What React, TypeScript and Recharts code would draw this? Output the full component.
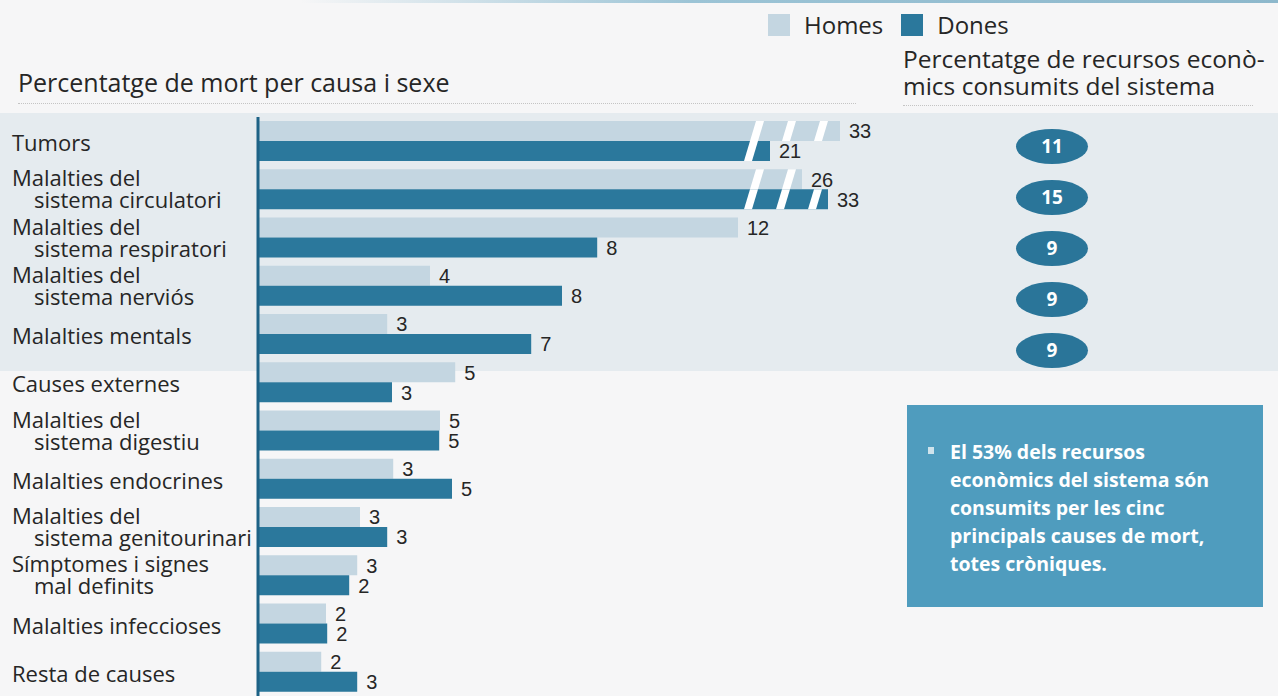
import React from "react";
import {
  BarChart,
  Bar,
  XAxis,
  YAxis,
  LabelList,
  ScatterChart,
  Scatter,
} from "recharts";

// causes, each one split in the lines it is printed on
const CAUSES: string[][] = [
  ["Tumors"],
  ["Malalties del", "sistema circulatori"],
  ["Malalties del", "sistema respiratori"],
  ["Malalties del", "sistema nerviós"],
  ["Malalties mentals"],
  ["Causes externes"],
  ["Malalties del", "sistema digestiu"],
  ["Malalties endocrines"],
  ["Malalties del", "sistema genitourinari"],
  ["Símptomes i signes", "mal definits"],
  ["Malalties infeccioses"],
  ["Resta de causes"],
];

// printed percentages
const HOMES_PCT = [33, 26, 12, 4, 3, 5, 5, 3, 3, 3, 2, 2];
const DONES_PCT = [21, 33, 8, 8, 7, 3, 5, 5, 3, 2, 2, 3];

// bar lengths as drawn in the original (not to scale, top bars cut by an axis break)
const HOMES_LEN = [14.55, 13.6, 12.0, 4.3, 3.23, 4.93, 4.55, 3.38, 2.55, 2.48, 1.7, 1.58];
const DONES_LEN = [12.8, 14.25, 8.48, 7.6, 6.83, 3.35, 4.53, 4.85, 3.23, 2.28, 1.73, 2.48];

// where the axis break stripes cross the long bars
const AXIS_BREAKS = [12.4, 13.2, 14.0];

// % of economic resources used, top five causes
const RESOURCE_PCT = [11, 15, 9, 9, 9];

const SERIES = [
  { key: "homesLen", label: "homesPct", name: "Homes", color: "#c4d6e1" },
  { key: "donesLen", label: "donesPct", name: "Dones", color: "#2b789c" },
];

const FONT = "'Open Sans', 'Noto Sans', sans-serif";
const TEXT = "#262626";

const data = CAUSES.map((lines, i) => ({
  cause: lines.join("|"),
  homesPct: HOMES_PCT[i],
  donesPct: DONES_PCT[i],
  homesLen: HOMES_LEN[i],
  donesLen: DONES_LEN[i],
}));

const resources = RESOURCE_PCT.map((v, i) => ({ pos: 0.5, row: i, value: v }));

const CauseTick = (props: any) => {
  const { y, payload } = props;
  const lines: string[] = String(payload.value).split("|");
  if (lines.length === 1) {
    return (
      <text x={12} y={y + 4} dominantBaseline="middle" fontSize={22} fill={TEXT} fontFamily={FONT}>
        {lines[0]}
      </text>
    );
  }
  return (
    <g>
      <text x={12} y={y - 9} dominantBaseline="middle" fontSize={22} fill={TEXT} fontFamily={FONT}>
        {lines[0]}
      </text>
      <text x={34} y={y + 13} dominantBaseline="middle" fontSize={22} fill={TEXT} fontFamily={FONT}>
        {lines[1]}
      </text>
    </g>
  );
};

// bar with white slanted stripes where it passes the axis break
const brokenBar = (lenKey: string, fill: string, upper: boolean) => (props: any) => {
  const { x, y, width, height, payload } = props;
  const len = payload[lenKey];
  const ppu = width / len;
  const seam = upper ? y + height : y;
  const slope = 0.3;
  const half = 4;
  return (
    <g>
      <rect x={x} y={y} width={width} height={height} fill={fill} />
      {AXIS_BREAKS.filter((b) => b < len - 0.05).map((b) => {
        const cx = x + b * ppu;
        const xt = cx + slope * (seam - y);
        const xb = cx + slope * (seam - (y + height));
        return (
          <polygon
            key={b}
            points={`${xt - half},${y} ${xt + half},${y} ${xb + half},${y + height} ${xb - half},${y + height}`}
            fill="#ffffff"
          />
        );
      })}
    </g>
  );
};

const ValueLabel = (props: any) => {
  const { x, y, width, height, value } = props;
  return (
    <text
      x={x + width + 9}
      y={y + height / 2 + 2}
      dominantBaseline="middle"
      fontSize={20}
      fill={TEXT}
      fontFamily="'Liberation Sans', Arial, sans-serif"
    >
      {value}
    </text>
  );
};

const ResourceEllipse = (props: any) => {
  const { cx, cy, payload } = props;
  return (
    <g>
      <ellipse cx={cx} cy={cy} rx={36} ry={17.5} fill="#2a7599" />
      <text
        x={cx}
        y={cy + 1}
        textAnchor="middle"
        dominantBaseline="middle"
        fontSize={19}
        fontWeight={700}
        fill="#ffffff"
        fontFamily={FONT}
      >
        {payload.value}
      </text>
    </g>
  );
};

export default function App() {
  return (
    <div
      style={{
        position: "absolute",
        left: 0,
        top: 0,
        width: 1278,
        height: 696,
        overflow: "hidden",
        background: "#f6f6f7",
        fontFamily: FONT,
        color: TEXT,
      }}
    >
      {/* top rule */}
      <div
        style={{
          position: "absolute",
          left: 300,
          top: 0,
          width: 978,
          height: 3,
          background: "linear-gradient(to right, rgba(150,195,215,0), #9cc4d6 40%, #8db8cc)",
        }}
      />
      {/* shaded band behind the five main causes */}
      <div style={{ position: "absolute", left: 0, top: 113, width: 1278, height: 258, background: "#e5ebef" }} />

      {/* legend */}
      <div style={{ position: "absolute", left: 768, top: 8, display: "flex", alignItems: "center", fontSize: 24 }}>
        {SERIES.map((s, i) => (
          <div key={s.name} style={{ display: "flex", alignItems: "center", marginRight: i === 0 ? 18 : 0 }}>
            <div style={{ width: 22, height: 22, background: s.color, marginRight: 14 }} />
            <span>{s.name}</span>
          </div>
        ))}
      </div>

      {/* titles */}
      <div style={{ position: "absolute", left: 18, top: 67, fontSize: 25, lineHeight: "30px" }}>
        Percentatge de mort per causa i sexe
      </div>
      <div style={{ position: "absolute", left: 18, top: 103, width: 838, borderTop: "1px dotted #c4c4c4" }} />
      <div style={{ position: "absolute", left: 903, top: 45, fontSize: 24.5, lineHeight: "27px" }}>
        Percentatge de recursos econò-
        <br />
        mics consumits del sistema
      </div>
      <div style={{ position: "absolute", left: 903, top: 105, width: 350, borderTop: "1px dotted #c4c4c4" }} />

      {/* main bar chart */}
      <div style={{ position: "absolute", left: 0, top: 0 }}>
        <BarChart
          width={1278}
          height={696}
          data={data}
          layout="vertical"
          margin={{ top: 117, right: 20, bottom: 0, left: 0 }}
          barGap={0}
        >
          <XAxis type="number" domain={[0, 25]} hide />
          <YAxis
            type="category"
            dataKey="cause"
            width={258}
            tick={<CauseTick />}
            tickLine={false}
            axisLine={{ stroke: "#1d6286", strokeWidth: 3 }}
            interval={0}
          />
          {SERIES.map((s, i) => (
            <Bar
              key={s.key}
              dataKey={s.key}
              name={s.name}
              fill={s.color}
              barSize={20}
              isAnimationActive={false}
              shape={brokenBar(s.key, s.color, i === 0)}
            >
              <LabelList dataKey={s.label} content={<ValueLabel />} />
            </Bar>
          ))}
        </BarChart>
      </div>

      {/* resources ellipses */}
      <div style={{ position: "absolute", left: 1000, top: 121 }}>
        <ScatterChart width={104} height={255} margin={{ top: 0, right: 0, bottom: 0, left: 0 }}>
          <XAxis type="number" dataKey="pos" domain={[0, 1]} hide />
          <YAxis type="number" dataKey="row" domain={[-0.5, 4.5]} reversed hide />
          <Scatter data={resources} shape={<ResourceEllipse />} isAnimationActive={false} />
        </ScatterChart>
      </div>

      {/* note box */}
      <div
        style={{
          position: "absolute",
          left: 907,
          top: 405,
          width: 356,
          height: 202,
          background: "#4f9cbe",
        }}
      >
        <div
          style={{ position: "absolute", left: 21, top: 42, width: 6, height: 7, background: "#cfe3ec" }}
        />
        <div
          style={{
            position: "absolute",
            left: 43,
            top: 33,
            fontSize: 19.5,
            fontWeight: 700,
            lineHeight: "28px",
            color: "#ffffff",
            whiteSpace: "nowrap",
          }}
        >
          El 53% dels recursos
          <br />
          econòmics del sistema són
          <br />
          consumits per les cinc
          <br />
          principals causes de mort,
          <br />
          totes cròniques.
        </div>
      </div>
    </div>
  );
}
